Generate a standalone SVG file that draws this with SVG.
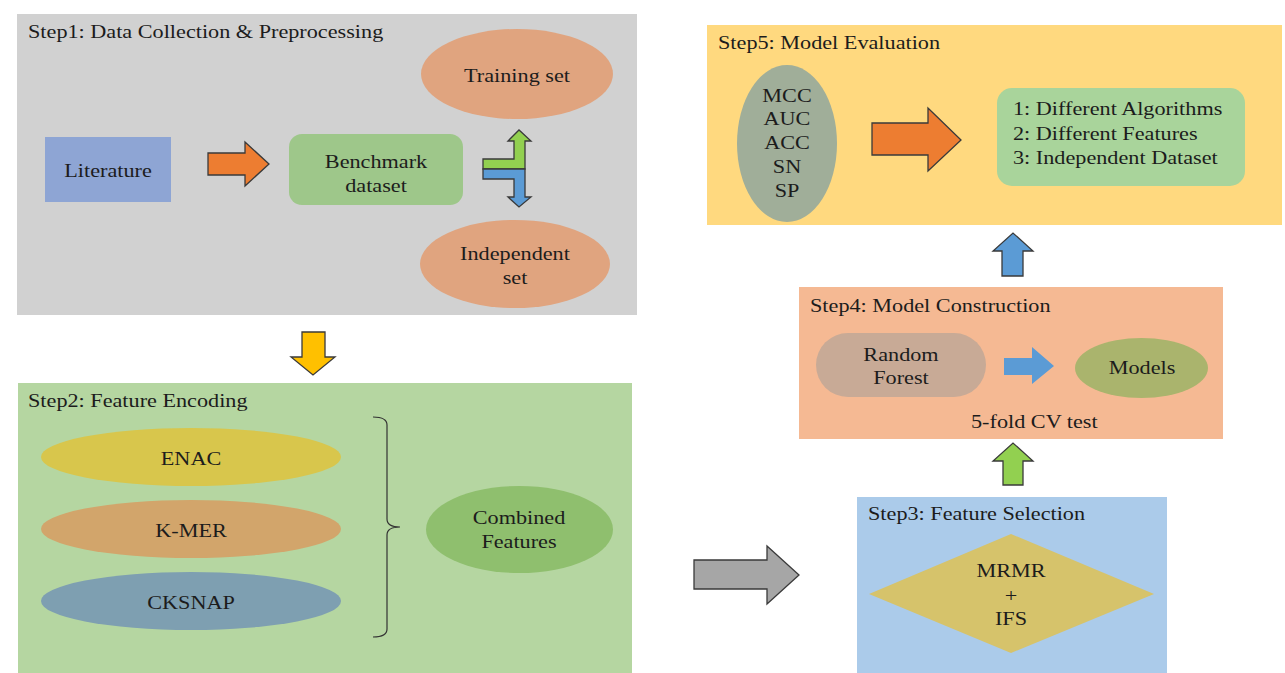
<svg xmlns="http://www.w3.org/2000/svg" width="1285" height="673" viewBox="0 0 1285 673">
<style>
.t{font-family:"Liberation Serif","Times New Roman",serif;font-size:19px;fill:#1c1c1c}
.c{text-anchor:middle}
.ar{stroke:#3a3a3a;stroke-width:1.3;stroke-linejoin:miter}
</style>
<rect x="0" y="0" width="1285" height="673" fill="#ffffff"/>

<g id="step1">
  <rect x="17" y="14" width="620" height="301" fill="#d1d1d1"/>
  <text class="t" transform="translate(28,38) scale(1.17,1)">Step1: Data Collection &amp; Preprocessing</text>
</g>
<g id="literature">
  <rect x="45" y="137" width="126" height="65" fill="#8ea5d4"/>
  <text class="t c" transform="translate(108,177) scale(1.17,1)">Literature</text>
</g>
<g id="benchmark">
  <rect x="289" y="134" width="174" height="71" rx="13" fill="#9ec78a"/>
  <text class="t c" transform="translate(376,168) scale(1.17,1)">Benchmark</text>
  <text class="t c" transform="translate(376,192) scale(1.17,1)">dataset</text>
</g>
<g id="training">
  <ellipse cx="517" cy="74" rx="96" ry="45" fill="#e0a47f"/>
  <text class="t c" transform="translate(517,82) scale(1.17,1)">Training set</text>
</g>
<g id="independent">
  <ellipse cx="515" cy="264" rx="95" ry="44" fill="#e0a47f"/>
  <text class="t c" transform="translate(515,260) scale(1.17,1)">Independent</text>
  <text class="t c" transform="translate(515,284) scale(1.17,1)">set</text>
</g>

<g id="step2">
  <rect x="18" y="383" width="614" height="290" fill="#b5d6a1"/>
  <text class="t" transform="translate(28,407) scale(1.17,1)">Step2: Feature Encoding</text>
</g>
<g id="enac">
  <ellipse cx="191" cy="457" rx="150" ry="29" fill="#d8c64c"/>
  <text class="t c" transform="translate(191,465) scale(1.17,1)">ENAC</text>
</g>
<g id="kmer">
  <ellipse cx="191" cy="529" rx="150" ry="29" fill="#d2a56b"/>
  <text class="t c" transform="translate(191,537) scale(1.17,1)">K-MER</text>
</g>
<g id="cksnap">
  <ellipse cx="191" cy="601" rx="150" ry="29" fill="#7e9fb1"/>
  <text class="t c" transform="translate(191,609) scale(1.17,1)">CKSNAP</text>
</g>
<g id="combined">
  <ellipse cx="519.5" cy="529.5" rx="93.5" ry="43.5" fill="#8fbf6e"/>
  <text class="t c" transform="translate(519,524) scale(1.17,1)">Combined</text>
  <text class="t c" transform="translate(519,548) scale(1.17,1)">Features</text>
</g>

<g id="step3">
  <rect x="857" y="497" width="310" height="176" fill="#abcbea"/>
  <text class="t" transform="translate(868,520) scale(1.17,1)">Step3: Feature Selection</text>
</g>
<g id="mrmr">
  <polygon points="869,594 1011,534 1154,594 1011,653" fill="#d6c36b"/>
  <text class="t c" transform="translate(1011,577) scale(1.17,1)">MRMR</text>
  <text class="t c" transform="translate(1011,602) scale(1.17,1)">+</text>
  <text class="t c" transform="translate(1011,625) scale(1.17,1)">IFS</text>
</g>

<g id="step4">
  <rect x="799" y="287" width="424" height="152" fill="#f5b993"/>
  <text class="t" transform="translate(810,312) scale(1.17,1)">Step4: Model Construction</text>
  <text class="t" transform="translate(971,428) scale(1.17,1)">5-fold CV test</text>
</g>
<g id="randomforest">
  <rect x="816" y="333" width="170" height="64" rx="32" fill="#c8aa96"/>
  <text class="t c" transform="translate(901,361) scale(1.17,1)">Random</text>
  <text class="t c" transform="translate(901,384) scale(1.17,1)">Forest</text>
</g>
<g id="models">
  <ellipse cx="1141.5" cy="368" rx="66.5" ry="30" fill="#aab46d"/>
  <text class="t c" transform="translate(1142,374) scale(1.17,1)">Models</text>
</g>

<g id="step5">
  <rect x="707" y="25" width="575" height="200" fill="#ffd97f"/>
  <text class="t" transform="translate(718,49) scale(1.17,1)">Step5: Model Evaluation</text>
</g>
<g id="metrics">
  <ellipse cx="787" cy="143.5" rx="50" ry="78.5" fill="#a0ae99"/>
  <text class="t c" transform="translate(787,102) scale(1.17,1)">MCC</text>
  <text class="t c" transform="translate(787,125) scale(1.17,1)">AUC</text>
  <text class="t c" transform="translate(787,149) scale(1.17,1)">ACC</text>
  <text class="t c" transform="translate(787,173) scale(1.17,1)">SN</text>
  <text class="t c" transform="translate(787,197) scale(1.17,1)">SP</text>
</g>
<g id="evaluation">
  <rect x="997" y="88" width="248" height="98" rx="15" fill="#a9d49b"/>
  <text class="t" transform="translate(1013,115) scale(1.17,1)">1: Different Algorithms</text>
  <text class="t" transform="translate(1013,140) scale(1.17,1)">2: Different Features</text>
  <text class="t" transform="translate(1013,164) scale(1.17,1)">3: Independent Dataset</text>
</g>

<g id="connectors">
  <polygon class="ar" fill="#ed7d31" points="208,153 245,153 245,142 269,164 245,186 245,175 208,175"/>
  <polygon class="ar" fill="#92d050" points="483,159 514,159 514,141 508,141 519,130 531,141 525,141 525,169 483,169"/>
  <polygon class="ar" fill="#5b9bd5" points="483,169 525,169 525,197 531,197 519,207 508,197 514,197 514,179 483,179"/>
  <polygon class="ar" fill="#ffc000" points="302,332 325,332 325,357 335,357 313,375 291,357 302,357"/>
  <path d="M373,417 Q387,417 387,425 L387,519 Q387,527 400,527 Q387,527 387,535 L387,629 Q387,637 373,637" fill="none" stroke="#333" stroke-width="1.2"/>
  <polygon class="ar" fill="#a6a6a6" points="694,560 767,560 767,546 799,575 767,604 767,589 694,589"/>
  <polygon class="ar" fill="#92d050" points="1003,485 1003,461 993,461 1013,443 1033,461 1023,461 1023,485"/>
  <polygon fill="#5b9bd5" points="1004,358 1032,358 1032,347 1054,366 1032,384 1032,375 1004,375"/>
  <polygon class="ar" fill="#5b9bd5" points="1002,276 1002,251 993,251 1013,233 1033,251 1023,251 1023,276"/>
  <polygon class="ar" fill="#ed7d31" points="872,123 928,123 928,108 961,140 928,171 928,155 872,155"/>
</g>
</svg>
